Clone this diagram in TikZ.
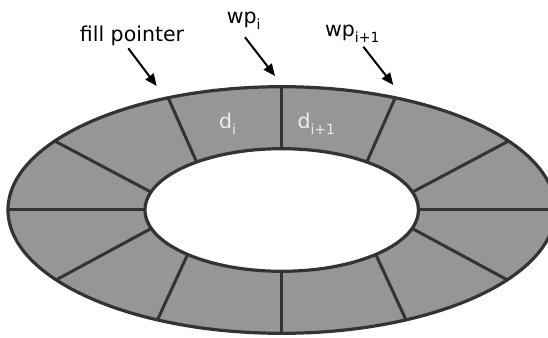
\documentclass[tikz,border=0pt]{standalone}
\usepackage{fontspec}
\setmainfont{DejaVu Sans}
\usetikzlibrary{arrows.meta,calc}
\definecolor{ringfill}{RGB}{150,150,150}
\definecolor{ringline}{RGB}{51,51,51}
\definecolor{celltext}{RGB}{236,236,236}
\newcommand\sbs[1]{\raisebox{-0.3em}{\fontsize{14}{14}\selectfont #1}}
\tikzset{
  ringedge/.style={draw=ringline, line width=3.2pt},
  spoke/.style={draw=ringline, line width=3pt},
  lbl/.style={inner sep=0pt, font=\fontsize{20.5}{24}\selectfont, text=black},
  celllbl/.style={inner sep=0pt, font=\fontsize{20.5}{24}\selectfont, text=celltext},
  pointer/.style={draw=black, line width=2pt, -{Triangle[length=12pt,width=10pt]}}
}
\begin{document}
\begin{tikzpicture}[x=1pt,y=1pt]
\useasboundingbox (0,0) rectangle (548,337);
\clip (0,0) rectangle (548,337);
\coordinate (O) at (281.7,127);
% ring
\fill[ringfill] (O) ellipse [x radius=273.7, y radius=123.3];
\fill[white] (O) ellipse [x radius=136.7, y radius=61.3];
% spokes
\foreach \a/\b in {90/90, 270/270, 0/0, 180/180,
                   146/163, 34/17,
                   114.5/128.5, 65.5/51.5,
                   243/226.5, 297/313.5,
                   214.5/197.5, 325.5/342.5}{
  \draw[spoke] ($(O)+(\a:273.7 and 123.3)$) -- ($(O)+(\b:136.7 and 61.3)$);
}
\draw[ringedge] (O) ellipse [x radius=136.7, y radius=61.3];
\draw[ringedge] (O) ellipse [x radius=273.7, y radius=123.3];
% labels
\node[lbl, anchor=base] (fp) at (132,295.3) {fill pointer};
\node[lbl, anchor=base west] (wpi) at (226.7,313.7) {wp\sbs{i}};
\node[lbl, anchor=base west] (wpj) at (325,300.3) {wp\sbs{i+1}};
\node[celllbl, anchor=base west] (di) at (219,208.7) {d\sbs{i}};
\node[celllbl, anchor=base west] (dj) at (297.3,208.7) {d\sbs{i+1}};
% arrows
\coordinate (fpS) at (128.3,288.7);
\coordinate (fpE) at (156.7,251);
\coordinate (wpiS) at (245,299.7);
\coordinate (wpiE) at (275,261);
\coordinate (wpjS) at (363.3,290.3);
\coordinate (wpjE) at (393.3,252);
\draw[pointer] (fpS) -- (fpE);
\draw[pointer] (wpiS) -- (wpiE);
\draw[pointer] (wpjS) -- (wpjE);
\end{tikzpicture}
\end{document}
